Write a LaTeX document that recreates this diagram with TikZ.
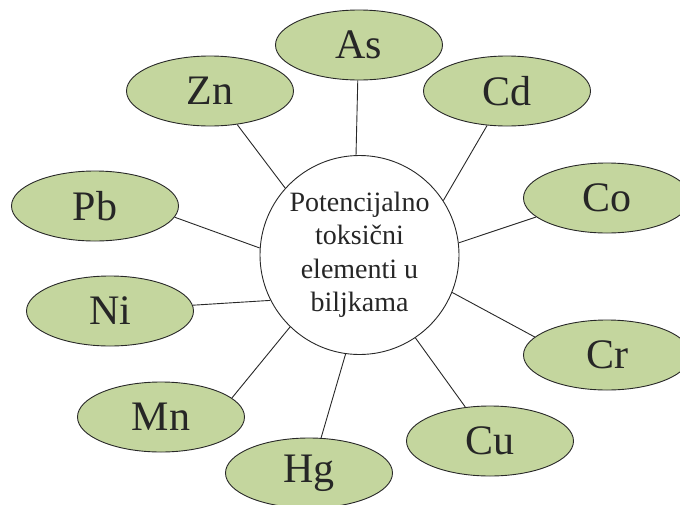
\documentclass[tikz,border=0pt]{standalone}
\usepackage{fontspec}
\setmainfont{Liberation Serif}
\usetikzlibrary{shapes.geometric}
\definecolor{leaf}{RGB}{196,214,158}
\definecolor{edge}{RGB}{40,40,40}
\begin{document}
\begin{tikzpicture}[x=1pt,y=-1pt,
  elem/.style={ellipse,draw=edge,line width=0.9pt,fill=leaf,minimum width=167pt,minimum height=70pt,inner sep=0pt,
    font=\fontsize{42}{46}\selectfont,text=black!85},
  hub/.style={circle,draw=edge,line width=0.9pt,fill=white,minimum size=199pt,inner sep=0pt,align=center,
    font=\fontsize{28}{33.5}\selectfont,text=black!85},
  link/.style={draw=edge,line width=0.9pt}]
\useasboundingbox (0,0) rectangle (680,504);
\node[hub] (c) at (359.5,255) {Potencijalno\\toksični\\elementi u\\biljkama};
\node[elem] (as) at (359,45) {As};
\node[elem] (zn) at (210,91) {Zn};
\node[elem] (cd) at (507,91) {Cd};
\node[elem] (co) at (607,198) {Co};
\node[elem] (pb) at (95,206) {Pb};
\node[elem] (ni) at (110,311) {Ni};
\node[elem] (cr) at (607,355) {Cr};
\node[elem] (mn) at (161,417) {Mn};
\node[elem] (cu) at (490,441) {Cu};
\node[elem] (hg) at (309,473) {Hg};
\draw[link] (as.-92) -- (c.92);
\draw[link] (zn.-51.5) -- (c.138);
\draw[link] (cd.-120) -- (c.33.4);
\draw[link] (co.195) -- (c.7.5);
\draw[link] (pb.-8.5) -- (c.176);
\draw[link] (ni.4) -- (c.207.7);
\draw[link] (cr.166) -- (c.-22.3);
\draw[link] (mn.15.5) -- (c.226.4);
\draw[link] (cu.126) -- (c.-56.2);
\draw[link] (hg.71.6) -- (c.-98.4);
\end{tikzpicture}
\end{document}
